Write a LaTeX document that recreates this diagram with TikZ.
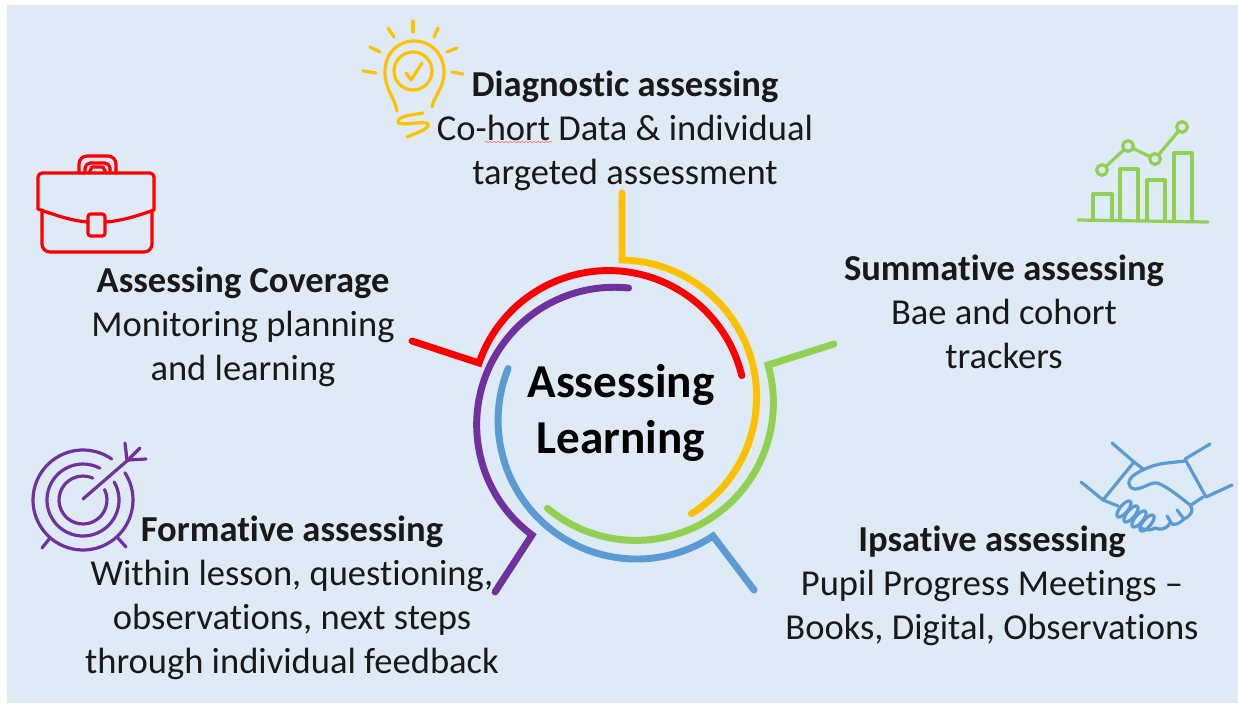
\documentclass[tikz,border=0pt]{standalone}
\usepackage{fontspec}
\setmainfont[Ligatures=CommonOff]{Carlito}
\usepackage{tikz}
\usepackage{xcolor}
\usetikzlibrary{arrows.meta, positioning, decorations.pathmorphing}
\definecolor{PanelColor}{HTML}{DEEAF6}
\definecolor{DiagnosticColor}{HTML}{FFC000}
\definecolor{SummativeColor}{HTML}{92D050}
\definecolor{IpsativeColor}{HTML}{5B9BD5}
\definecolor{FormativeColor}{HTML}{7030A0}
\definecolor{CoverageColor}{HTML}{FF0000}

\begin{document}
\begin{tikzpicture} [
    x=.75pt, y=-.75pt,
      T/.style = {align=center, inner sep=0pt, text=black!90, font=\fontsize{27.4}{33}\selectfont},
  title/.style = {align=center, inner sep=0pt, font=\fontsize{35.4}{42}\selectfont\bfseries},
   ring/.style = {line width=5.2pt, line cap=round, miter limit=10},
   icon/.style = {line width=2.4pt, line cap=round, line join=round},
   ball/.style = {circle, draw=SummativeColor, line width=2.4pt, minimum size=8pt, inner sep=0pt}
]
  \useasboundingbox (0,0) rectangle (1238,703);
  \fill[PanelColor] (7,5) rectangle (1238,703);

  % Centre
  \node[title] (assessing) at (621,413) {Assessing\\Learning};

  % Ends of the spokes
  \coordinate (diagnosticend) at (622,193);
  \coordinate (diagnosticbend) at (622,260);
  \coordinate (summativeend) at (834,344);
  \coordinate (summativebend) at (768,365);
  \coordinate (ipsativeend) at (754,590);
  \coordinate (ipsativebend) at (713,536);
  \coordinate (formativeend) at (495,592);
  \coordinate (formativebend) at (532,535);
  \coordinate (coverageend) at (412,341);
  \coordinate (coveragebend) at (479,363);

  % Rings
  \draw[ring, DiagnosticColor] (diagnosticend) -- (diagnosticbend) arc[start angle=-89, end angle=58.4, radius=137];
  \draw[ring, SummativeColor] (summativeend) -- (summativebend) arc[start angle=-16, end angle=130, radius=137.5];
  \draw[ring, IpsativeColor] (ipsativeend) -- (ipsativebend) arc[start angle=56.5, end angle=202, radius=138.5];
  \draw[ring, FormativeColor] (formativeend) -- (formativebend) arc[start angle=126.7, end angle=276, radius=137.5];
  \draw[ring, CoverageColor] (coverageend) -- (coveragebend) arc[start angle=-161, end angle=-13.5, radius=137];

  % Labels
  \node[T] (diagnostic) at (625,131) {\textbf{Diagnostic assessing}\\Co-hort Data \& individual\\targeted assessment};
  \node[T] (summative) at (1004,312) {\textbf{Summative assessing}\\Bae and cohort\\trackers};
  \node[T] (ipsative) at (992,586) {\textbf{Ipsative assessing}\\Pupil Progress Meetings --\\Books, Digital, Observations};
  \node[T] (formative) at (292,598) {\textbf{Formative assessing}\\Within lesson, questioning,\\observations, next steps\\through individual feedback};
  \node[T] (coverage) at (243,327) {\textbf{Assessing Coverage}\\Monitoring planning\\and learning};

  % spell check mark
  \draw[CoverageColor!60, line width=.5pt, decorate, decoration={snake, amplitude=.5pt, segment length=3pt}] (485,142) -- (552,142);

  % Lamp
  \begin{scope}[icon, DiagnosticColor]
    \draw (413,21) -- (413,32);
    \draw (388,28) -- (394,37);
    \draw (438,28) -- (434,37);
    \draw (370,47) -- (380,52);
    \draw (457,48) -- (447,52);
    \draw (363,71) -- (376,73);
    \draw (452,72) -- (463,74);
    \draw (397,111) .. controls (394,96) and (385,90) .. (385,72)
      .. controls (385,53) and (398,41) .. (414,41)
      .. controls (431,41) and (444,54) .. (444,72)
      .. controls (444,88) and (435,94) .. (432,107);
    \draw (413,71) circle (19);
    \draw (406,73) -- (411,80) -- (422,63);
    \draw (423,113) .. controls (412,115) and (398,116) .. (398,122)
      .. controls (398,127) and (425,120) .. (428,124)
      .. controls (430,129) and (416,133) .. (407,137);
  \end{scope}

  % Chart
  \begin{scope}[icon, SummativeColor]
    \draw (1078,220) -- (1208,222);
    \draw (1093,220) -- (1093,194) -- (1112,194) -- (1112,220);
    \draw (1120,220) -- (1120,169) -- (1138,169) -- (1138,220);
    \draw (1147,220) -- (1147,180) -- (1165,180) -- (1165,220);
    \draw (1174,220) -- (1174,153) -- (1192,153) -- (1192,220);
    \node[ball] (first) at (1102,170) {};
    \node[ball] (second) at (1128,146) {};
    \node[ball] (third) at (1155,159) {};
    \node[ball] (fourth) at (1182,127) {};
    \draw (first) -- (second);
    \draw (second) -- (third);
    \draw (third) -- (fourth);
  \end{scope}

  % Hands
  \begin{scope}[icon, IpsativeColor]
    \draw (1112,443) -- (1134,462) -- (1103,500) -- (1081,482);
    \draw (1210,444) -- (1185,459) -- (1206,497) -- (1232,485);
    \draw (1134,462) -- (1143,469);
    \draw (1185,461) -- (1167,463) .. controls (1155,464) and (1143,469) .. (1134,475)
      .. controls (1127,480) and (1127,488) .. (1135,489)
      .. controls (1143,489) and (1150,482) .. (1157,483)
      .. controls (1165,485) and (1180,497) .. (1190,505)
      .. controls (1194,510) and (1192,515) .. (1184,519)
      .. controls (1179,524) and (1174,526) .. (1170,523)
      .. controls (1166,530) and (1160,530) .. (1155,528)
      .. controls (1150,531) and (1146,530) .. (1140,528);
    \draw (1203,497) -- (1191,505);
    \draw (1103,500) -- (1118,506);
    \foreach \fx/\fy in {1124/509, 1131/514, 1139/519, 1147/523}
      \draw (\fx,\fy) ellipse [x radius=10, y radius=4, rotate=50];
    \draw (1177,510) -- (1184,519);
    \draw (1167,516) -- (1172,524);
  \end{scope}

  % Case
  \begin{scope}[icon, CoverageColor]
    \draw[rounded corners=3pt] (38,209) -- (38,173) -- (154,173) -- (154,210);
    \draw[rounded corners=6pt] (42,212) -- (42,252) -- (152,252) -- (152,212);
    \draw (38,209) .. controls (55,215) and (72,221) .. (88,222);
    \draw (105,222) .. controls (122,221) and (140,215) .. (154,210);
    \draw[rounded corners=2pt] (88,214) rectangle (105,236);
    \draw[rounded corners=6pt] (79,173) -- (79,156) -- (116,156) -- (116,173);
    \draw[rounded corners=4pt] (85,173) -- (85,163) -- (110,163) -- (110,173);
    \draw (89,173) -- (92,167) -- (103,167) -- (106,173);
  \end{scope}

  % Target
  \begin{scope}[icon, FormativeColor]
    \draw (83,500) ++(-33:50) arc[start angle=-33, end angle=305, radius=50];
    \draw (83,500) ++(-30:36) arc[start angle=-30, end angle=298, radius=36];
    \draw (83,500) ++(-26:24) arc[start angle=-26, end angle=294, radius=24];
    \draw (83,499) -- (128,460);
    \draw (125,443) -- (127,460);
    \draw (140,448) -- (128,460);
    \draw (146,459) -- (128,460);
    \draw (50,538) -- (42,548);
    \draw (117,537) -- (126,547);
  \end{scope}
\end{tikzpicture}
\end{document}
